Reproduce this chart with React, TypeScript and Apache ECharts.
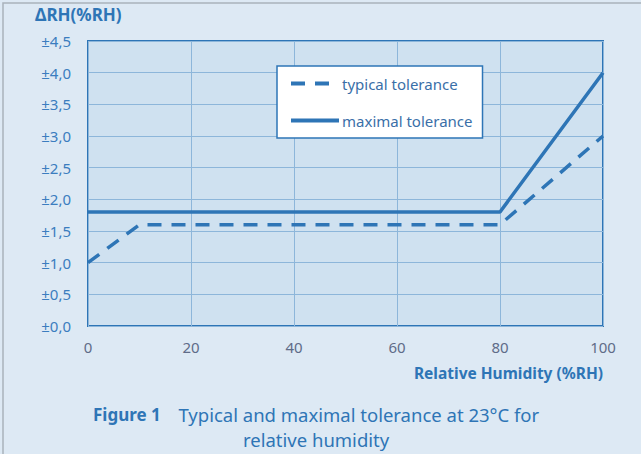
import React, { useEffect, useRef } from "react";
import * as echarts from "echarts";

const xTicks = [0, 20, 40, 60, 80, 100];
const typicalTolerance: [number, number][] = [[0, 1.0], [10, 1.6], [80, 1.6], [100, 3.0]];
const maximalTolerance: [number, number][] = [[0, 1.8], [80, 1.8], [100, 4.0]];
const seriesNames = ["typical tolerance", "maximal tolerance"];

const BLUE = "#2e75b6";
const FONT = "'Noto Sans', sans-serif";

export default function App() {
  const ref = useRef<HTMLDivElement>(null);
  useEffect(() => {
    const chart = echarts.init(ref.current!, undefined, { renderer: "svg" });
    chart.setOption({
      animation: false,
      backgroundColor: "#dde9f4",
      textStyle: { fontFamily: FONT },
      grid: {
        left: 88, right: 38, top: 41, bottom: 128,
        show: true, backgroundColor: "#cfe1f0", borderColor: BLUE, borderWidth: 2,
      },
      legend: {
        orient: "vertical", left: 277, top: 66,
        backgroundColor: "#ffffff", borderColor: BLUE, borderWidth: 1.5, borderRadius: 0,
        padding: [10, 10, 10, 12], itemGap: 22, itemWidth: 48, itemHeight: 18,
        itemStyle: { opacity: 0 },
        lineStyle: { width: 4 },
        textStyle: { color: "#3a6fa8", fontSize: 15, fontFamily: FONT, padding: [0, 0, 0, -2] },
        data: seriesNames,
      },
      xAxis: {
        type: "value", min: 0, max: 100, interval: 20,
        axisLine: { show: false }, axisTick: { show: false },
        splitLine: { show: true, lineStyle: { color: "#8db6da", width: 1 } },
        axisLabel: { color: "#5f6c88", fontSize: 15, margin: 13, fontFamily: FONT,
          formatter: (v: number) => (xTicks.includes(v) ? String(v) : "") },
      },
      yAxis: {
        type: "value", min: 0, max: 4.5, interval: 0.5,
        axisLine: { show: false }, axisTick: { show: false },
        splitLine: { show: true, lineStyle: { color: "#8db6da", width: 1 } },
        axisLabel: { color: "#3b7dbf", fontSize: 15, margin: 17, fontFamily: FONT,
          formatter: (v: number) => "±" + v.toFixed(1).replace(".", ",") },
      },
      series: [
        {
          name: seriesNames[0], type: "line", data: typicalTolerance, symbol: "none",
          lineStyle: { color: BLUE, width: 3.5, type: [14, 10] }, itemStyle: { color: BLUE },
        },
        {
          name: seriesNames[1], type: "line", data: maximalTolerance, symbol: "none",
          lineStyle: { color: BLUE, width: 3.5 }, itemStyle: { color: BLUE },
        },
      ],
      graphic: [
        { type: "rect", shape: { x: 3, y: 3, width: 700, height: 600 }, style: { fill: "none", stroke: "#a9b2bb", lineWidth: 1.5 }, silent: true },
        { type: "text", left: 35, top: 6, style: { text: "ΔRH(%RH)", fill: BLUE, font: `bold 17px ${FONT}` } },
        { type: "text", right: 38, top: 365, style: { text: "Relative Humidity (%RH)", fill: BLUE, font: `bold 15.5px ${FONT}` } },
        {
          type: "text", left: 93, top: 405,
          style: {
            text: "{b|Figure 1}    {n|Typical and maximal tolerance at 23°C for}",
            rich: {
              b: { fill: BLUE, font: `bold 17px ${FONT}` },
              n: { fill: BLUE, font: `18.5px ${FONT}` },
            },
            fill: BLUE, font: `17px ${FONT}`,
          },
        },
        { type: "text", left: 243, top: 430, style: { text: "relative humidity", fill: BLUE, font: `18.5px ${FONT}` } },
      ],
    });
    return () => chart.dispose();
  }, []);
  return <div ref={ref} style={{ position: "fixed", left: 0, top: 0, width: 641, height: 454 }} />;
}
